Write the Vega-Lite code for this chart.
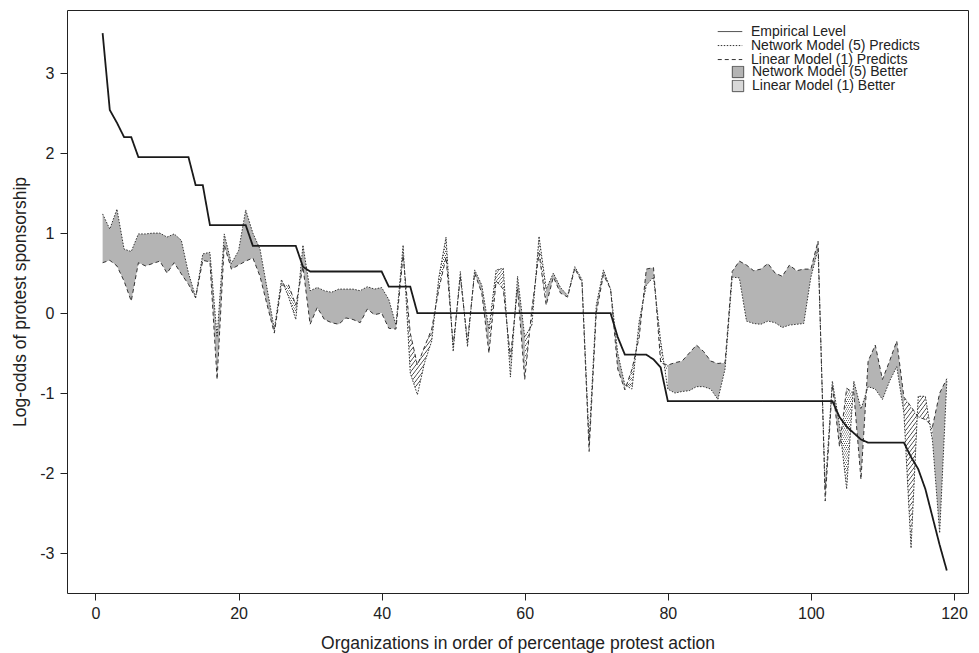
{
  "$schema": "https://vega.github.io/schema/vega-lite/v6.json",
  "width": 901,
  "height": 583,
  "autosize": "none",
  "padding": {"left": 67, "top": 10, "right": 11, "bottom": 60},
  "background": "#ffffff",
  "config": {
    "font": "Liberation Sans",
    "view": {"stroke": "#222222", "strokeWidth": 1},
    "axis": {"grid": false, "domain": false, "tickColor": "#222222", "tickSize": 7, "labelColor": "#222222", "titleColor": "#222222", "labelFontSize": 16, "titleFontSize": 17.5, "titleFontWeight": "normal"}
  },
  "datasets": {
    "main": [
      {"i":1,"e":3.5,"n":1.24,"l":0.63},{"i":2,"e":2.54,"n":1.05,"l":0.66},{"i":3,"e":2.38,"n":1.3,"l":0.59},{"i":4,"e":2.2,"n":0.8,"l":0.4},{"i":5,"e":2.2,"n":0.77,"l":0.15},
      {"i":6,"e":1.95,"n":0.99,"l":0.63},{"i":7,"e":1.95,"n":0.99,"l":0.59},{"i":8,"e":1.95,"n":1.0,"l":0.62},{"i":9,"e":1.95,"n":1.0,"l":0.65},{"i":10,"e":1.95,"n":0.95,"l":0.5},
      {"i":11,"e":1.95,"n":0.99,"l":0.63},{"i":12,"e":1.95,"n":0.91,"l":0.49},{"i":13,"e":1.95,"n":0.5,"l":0.36},{"i":14,"e":1.6,"n":0.2,"l":0.19},{"i":15,"e":1.6,"n":0.74,"l":0.66},
      {"i":16,"e":1.1,"n":0.76,"l":0.64},{"i":17,"e":1.1,"n":-0.3,"l":-0.83},{"i":18,"e":1.1,"n":0.99,"l":0.85},{"i":19,"e":1.1,"n":0.62,"l":0.55},{"i":20,"e":1.1,"n":0.78,"l":0.6},
      {"i":21,"e":1.1,"n":1.29,"l":0.65},{"i":22,"e":0.84,"n":1.0,"l":0.69},{"i":23,"e":0.84,"n":0.8,"l":0.46},{"i":24,"e":0.84,"n":0.3,"l":0.1},{"i":25,"e":0.84,"n":-0.2,"l":-0.25},
      {"i":26,"e":0.84,"n":0.42,"l":0.35},{"i":27,"e":0.84,"n":0.2,"l":0.35},{"i":28,"e":0.84,"n":-0.08,"l":0.1},{"i":29,"e":0.58,"n":0.85,"l":0.58},{"i":30,"e":0.52,"n":0.28,"l":-0.14},
      {"i":31,"e":0.52,"n":0.32,"l":0.07},{"i":32,"e":0.52,"n":0.28,"l":-0.08},{"i":33,"e":0.52,"n":0.26,"l":-0.12},{"i":34,"e":0.52,"n":0.3,"l":-0.14},{"i":35,"e":0.52,"n":0.3,"l":-0.06},
      {"i":36,"e":0.52,"n":0.3,"l":-0.08},{"i":37,"e":0.52,"n":0.28,"l":-0.12},{"i":38,"e":0.52,"n":0.33,"l":0.05},{"i":39,"e":0.52,"n":0.3,"l":-0.02},{"i":40,"e":0.52,"n":0.32,"l":0.0},
      {"i":41,"e":0.33,"n":0.17,"l":-0.19},{"i":42,"e":0.33,"n":-0.15,"l":-0.2},{"i":43,"e":0.33,"n":0.85,"l":0.72},{"i":44,"e":0.33,"n":-0.75,"l":-0.25},{"i":45,"e":0,"n":-1.02,"l":-0.65},
      {"i":46,"e":0,"n":-0.62,"l":-0.42},{"i":47,"e":0,"n":-0.35,"l":-0.2},{"i":48,"e":0,"n":0.45,"l":0.3},{"i":49,"e":0,"n":0.95,"l":0.7},{"i":50,"e":0,"n":-0.48,"l":-0.4},
      {"i":51,"e":0,"n":0.52,"l":0.45},{"i":52,"e":0,"n":-0.42,"l":-0.35},{"i":53,"e":0,"n":0.54,"l":0.5},{"i":54,"e":0,"n":0.35,"l":0.25},{"i":55,"e":0,"n":-0.2,"l":-0.5},
      {"i":56,"e":0,"n":0.54,"l":0.4},{"i":57,"e":0,"n":0.56,"l":0.3},{"i":58,"e":0,"n":-0.8,"l":-0.55},{"i":59,"e":0,"n":0.46,"l":0.3},{"i":60,"e":0,"n":-0.3,"l":-0.83},
      {"i":61,"e":0,"n":-0.15,"l":0.05},{"i":62,"e":0,"n":0.96,"l":0.75},{"i":63,"e":0,"n":0.3,"l":0.1},{"i":64,"e":0,"n":0.5,"l":0.45},{"i":65,"e":0,"n":0.32,"l":0.25},
      {"i":66,"e":0,"n":0.22,"l":0.2},{"i":67,"e":0,"n":0.58,"l":0.56},{"i":68,"e":0,"n":0.42,"l":0.38},{"i":69,"e":0,"n":-1.6,"l":-1.73},{"i":70,"e":0,"n":0.1,"l":0.0},
      {"i":71,"e":0,"n":0.54,"l":0.48},{"i":72,"e":0,"n":0.3,"l":0.3},{"i":73,"e":-0.3,"n":-0.5,"l":-0.7},{"i":74,"e":-0.52,"n":-0.9,"l":-0.96},{"i":75,"e":-0.52,"n":-0.95,"l":-0.7},
      {"i":76,"e":-0.52,"n":-0.1,"l":-0.3},{"i":77,"e":-0.52,"n":0.35,"l":0.55},{"i":78,"e":-0.58,"n":0.45,"l":0.57},{"i":79,"e":-0.68,"n":-0.35,"l":-0.62},{"i":80,"e":-1.1,"n":-0.95,"l":-0.65},
      {"i":81,"e":-1.1,"n":-1.0,"l":-0.62},{"i":82,"e":-1.1,"n":-0.98,"l":-0.6},{"i":83,"e":-1.1,"n":-0.97,"l":-0.5},{"i":84,"e":-1.1,"n":-0.92,"l":-0.4},{"i":85,"e":-1.1,"n":-0.92,"l":-0.48},
      {"i":86,"e":-1.1,"n":-0.95,"l":-0.6},{"i":87,"e":-1.1,"n":-1.08,"l":-0.63},{"i":88,"e":-1.1,"n":-0.7,"l":-0.62},{"i":89,"e":-1.1,"n":0.45,"l":0.52},{"i":90,"e":-1.1,"n":0.44,"l":0.65},
      {"i":91,"e":-1.1,"n":-0.1,"l":0.6},{"i":92,"e":-1.1,"n":-0.13,"l":0.53},{"i":93,"e":-1.1,"n":-0.14,"l":0.55},{"i":94,"e":-1.1,"n":-0.1,"l":0.62},{"i":95,"e":-1.1,"n":-0.12,"l":0.5},
      {"i":96,"e":-1.1,"n":-0.18,"l":0.46},{"i":97,"e":-1.1,"n":-0.15,"l":0.6},{"i":98,"e":-1.1,"n":-0.14,"l":0.53},{"i":99,"e":-1.1,"n":-0.13,"l":0.55},{"i":100,"e":-1.1,"n":0.45,"l":0.55},
      {"i":101,"e":-1.1,"n":0.8,"l":0.9},{"i":102,"e":-1.1,"n":-2.2,"l":-2.35},{"i":103,"e":-1.1,"n":-0.85,"l":-0.9},{"i":104,"e":-1.3,"n":-1.4,"l":-1.67},{"i":105,"e":-1.42,"n":-2.2,"l":-0.94},
      {"i":106,"e":-1.5,"n":-0.85,"l":-1.0},{"i":107,"e":-1.58,"n":-1.2,"l":-2.08},{"i":108,"e":-1.62,"n":-0.92,"l":-0.6},{"i":109,"e":-1.62,"n":-0.95,"l":-0.4},{"i":110,"e":-1.62,"n":-1.08,"l":-0.83},
      {"i":111,"e":-1.62,"n":-0.85,"l":-0.6},{"i":112,"e":-1.62,"n":-0.67,"l":-0.35},{"i":113,"e":-1.62,"n":-1.25,"l":-1.05},{"i":114,"e":-1.8,"n":-2.94,"l":-1.17},{"i":115,"e":-1.95,"n":-1.04,"l":-1.3},
      {"i":116,"e":-2.2,"n":-1.04,"l":-1.33},{"i":117,"e":-2.55,"n":-1.6,"l":-1.42},{"i":118,"e":-2.9,"n":-2.75,"l":-1.0},{"i":119,"e":-3.22,"n":-0.85,"l":-0.82}
    ],
    "hatch": [
      {"g":1,"i":26,"n":0.42,"l":0.35},{"g":1,"i":27,"n":0.2,"l":0.35},{"g":1,"i":28,"n":-0.08,"l":0.1},
      {"g":2,"i":43,"n":0.85,"l":0.72},{"g":2,"i":44,"n":-0.75,"l":-0.25},{"g":2,"i":45,"n":-1.02,"l":-0.65},{"g":2,"i":46,"n":-0.62,"l":-0.42},{"g":2,"i":47,"n":-0.35,"l":-0.2},
      {"g":3,"i":48,"n":0.45,"l":0.3},{"g":3,"i":49,"n":0.95,"l":0.7},{"g":3,"i":50,"n":-0.48,"l":-0.4},
      {"g":4,"i":55,"n":-0.2,"l":-0.5},{"g":4,"i":56,"n":0.54,"l":0.4},{"g":4,"i":57,"n":0.56,"l":0.3},{"g":4,"i":58,"n":-0.8,"l":-0.55},
      {"g":5,"i":60,"n":-0.3,"l":-0.83},{"g":5,"i":61,"n":-0.15,"l":0.05},{"g":5,"i":62,"n":0.96,"l":0.75},{"g":5,"i":63,"n":0.3,"l":0.1},
      {"g":6,"i":74,"n":-0.9,"l":-0.96},{"g":6,"i":75,"n":-0.95,"l":-0.7},{"g":6,"i":76,"n":-0.1,"l":-0.3},
      {"g":7,"i":78,"n":0.45,"l":0.57},{"g":7,"i":79,"n":-0.35,"l":-0.62},{"g":7,"i":80,"n":-0.95,"l":-0.65},
      {"g":8,"i":104,"n":-1.4,"l":-1.67},{"g":8,"i":105,"n":-2.2,"l":-0.94},{"g":8,"i":106,"n":-0.85,"l":-1.0},
      {"g":9,"i":113,"n":-1.25,"l":-1.05},{"g":9,"i":114,"n":-2.94,"l":-1.17},{"g":9,"i":115,"n":-1.04,"l":-1.3},{"g":9,"i":116,"n":-1.04,"l":-1.33},{"g":9,"i":117,"n":-1.6,"l":-1.42}
    ]
  },
  "layer": [
    {
      "data": {"name": "main"},
      "mark": {"type": "area"},
      "encoding": {
        "x": {"field": "i", "type": "quantitative", "scale": {"domain": [-3.98, 121.96], "nice": false, "zero": false},
              "axis": {"values": [0, 20, 40, 60, 80, 100, 120], "title": "Organizations in order of percentage protest action", "labelPadding": 5, "titlePadding": 13}},
        "y": {"field": "n", "type": "quantitative", "scale": {"domain": [-3.5, 3.79], "nice": false, "zero": false},
              "axis": {"values": [-3, -2, -1, 0, 1, 2, 3], "title": "Log-odds of protest sponsorship", "labelExpr": "toString(datum.value)", "labelPadding": 6, "titlePadding": 10}},
        "y2": {"field": "l"},
        "fill": {"datum": "Network Model (5) Better",
                 "scale": {"domain": ["Network Model (5) Better", "Linear Model (1) Better"], "range": ["#b4b4b4", "#d8d8d8"]},
                 "legend": {"orient": "none", "legendX": 664, "legendY": 55.7, "title": null, "symbolType": "square", "symbolSize": 130, "symbolStrokeColor": "#333333", "symbolStrokeWidth": 0.8, "labelFontSize": 14, "labelColor": "#222222", "labelOffset": 7, "labelLimit": 400, "clipHeight": 12.5, "rowPadding": -1.8}}
      }
    },
    {
      "data": {"name": "hatch"},
      "mark": {"type": "area", "fill": {"gradient": "linear", "x1": 0, "y1": 0, "x2": 0.25, "y2": 1, "stops": [
        {"offset":0,"color":"#ffffff"},{"offset":0.0183,"color":"#ffffff"},{"offset":0.0267,"color":"#444444"},
        {"offset":0.0333,"color":"#ffffff"},{"offset":0.0517,"color":"#ffffff"},{"offset":0.06,"color":"#444444"},
        {"offset":0.0667,"color":"#ffffff"},{"offset":0.085,"color":"#ffffff"},{"offset":0.0933,"color":"#444444"},
        {"offset":0.1,"color":"#ffffff"},{"offset":0.1183,"color":"#ffffff"},{"offset":0.1267,"color":"#444444"},
        {"offset":0.1333,"color":"#ffffff"},{"offset":0.1517,"color":"#ffffff"},{"offset":0.16,"color":"#444444"},
        {"offset":0.1667,"color":"#ffffff"},{"offset":0.185,"color":"#ffffff"},{"offset":0.1933,"color":"#444444"},
        {"offset":0.2,"color":"#ffffff"},{"offset":0.2183,"color":"#ffffff"},{"offset":0.2267,"color":"#444444"},
        {"offset":0.2333,"color":"#ffffff"},{"offset":0.2517,"color":"#ffffff"},{"offset":0.26,"color":"#444444"},
        {"offset":0.2667,"color":"#ffffff"},{"offset":0.285,"color":"#ffffff"},{"offset":0.2933,"color":"#444444"},
        {"offset":0.3,"color":"#ffffff"},{"offset":0.3183,"color":"#ffffff"},{"offset":0.3267,"color":"#444444"},
        {"offset":0.3333,"color":"#ffffff"},{"offset":0.3517,"color":"#ffffff"},{"offset":0.36,"color":"#444444"},
        {"offset":0.3667,"color":"#ffffff"},{"offset":0.385,"color":"#ffffff"},{"offset":0.3933,"color":"#444444"},
        {"offset":0.4,"color":"#ffffff"},{"offset":0.4183,"color":"#ffffff"},{"offset":0.4267,"color":"#444444"},
        {"offset":0.4333,"color":"#ffffff"},{"offset":0.4517,"color":"#ffffff"},{"offset":0.46,"color":"#444444"},
        {"offset":0.4667,"color":"#ffffff"},{"offset":0.485,"color":"#ffffff"},{"offset":0.4933,"color":"#444444"},
        {"offset":0.5,"color":"#ffffff"},{"offset":0.5183,"color":"#ffffff"},{"offset":0.5267,"color":"#444444"},
        {"offset":0.5333,"color":"#ffffff"},{"offset":0.5517,"color":"#ffffff"},{"offset":0.56,"color":"#444444"},
        {"offset":0.5667,"color":"#ffffff"},{"offset":0.585,"color":"#ffffff"},{"offset":0.5933,"color":"#444444"},
        {"offset":0.6,"color":"#ffffff"},{"offset":0.6183,"color":"#ffffff"},{"offset":0.6267,"color":"#444444"},
        {"offset":0.6333,"color":"#ffffff"},{"offset":0.6517,"color":"#ffffff"},{"offset":0.66,"color":"#444444"},
        {"offset":0.6667,"color":"#ffffff"},{"offset":0.685,"color":"#ffffff"},{"offset":0.6933,"color":"#444444"},
        {"offset":0.7,"color":"#ffffff"},{"offset":0.7183,"color":"#ffffff"},{"offset":0.7267,"color":"#444444"},
        {"offset":0.7333,"color":"#ffffff"},{"offset":0.7517,"color":"#ffffff"},{"offset":0.76,"color":"#444444"},
        {"offset":0.7667,"color":"#ffffff"},{"offset":0.785,"color":"#ffffff"},{"offset":0.7933,"color":"#444444"},
        {"offset":0.8,"color":"#ffffff"},{"offset":0.8183,"color":"#ffffff"},{"offset":0.8267,"color":"#444444"},
        {"offset":0.8333,"color":"#ffffff"},{"offset":0.8517,"color":"#ffffff"},{"offset":0.86,"color":"#444444"},
        {"offset":0.8667,"color":"#ffffff"},{"offset":0.885,"color":"#ffffff"},{"offset":0.8933,"color":"#444444"},
        {"offset":0.9,"color":"#ffffff"},{"offset":0.9183,"color":"#ffffff"},{"offset":0.9267,"color":"#444444"},
        {"offset":0.9333,"color":"#ffffff"},{"offset":0.9517,"color":"#ffffff"},{"offset":0.96,"color":"#444444"},
        {"offset":0.9667,"color":"#ffffff"},{"offset":0.985,"color":"#ffffff"},{"offset":0.9933,"color":"#444444"},
        {"offset":1,"color":"#ffffff"}]}},
      "encoding": {
        "x": {"field": "i", "type": "quantitative"},
        "y": {"field": "n", "type": "quantitative"},
        "y2": {"field": "l"},
        "detail": {"field": "g", "type": "nominal"}
      }
    },
    {
      "data": {"name": "main"},
      "mark": {"type": "line", "color": "#333333", "strokeWidth": 1},
      "encoding": {
        "x": {"field": "i", "type": "quantitative"},
        "y": {"field": "l", "type": "quantitative"},
        "strokeDash": {"datum": "Linear Model (1) Predicts"}
      }
    },
    {
      "data": {"name": "main"},
      "mark": {"type": "line", "color": "#333333", "strokeWidth": 1},
      "encoding": {
        "x": {"field": "i", "type": "quantitative"},
        "y": {"field": "n", "type": "quantitative"},
        "strokeDash": {"datum": "Network Model (5) Predicts"}
      }
    },
    {
      "data": {"name": "main"},
      "mark": {"type": "line", "color": "#1a1a1a", "strokeWidth": 1.8},
      "encoding": {
        "x": {"field": "i", "type": "quantitative"},
        "y": {"field": "e", "type": "quantitative"},
        "strokeDash": {"datum": "Empirical Level",
                       "scale": {"domain": ["Empirical Level", "Network Model (5) Predicts", "Linear Model (1) Predicts"], "range": [[1, 0], [1.5, 1.5], [4, 3]]},
                       "legend": {"orient": "none", "legendX": 650, "legendY": 15.3, "title": null, "symbolType": "stroke", "symbolSize": 600, "symbolStrokeColor": "#222222", "symbolStrokeWidth": 1, "labelFontSize": 14, "labelColor": "#222222", "labelOffset": 8, "labelLimit": 400, "clipHeight": 12.5, "rowPadding": -1.8}}
      }
    }
  ]
}
